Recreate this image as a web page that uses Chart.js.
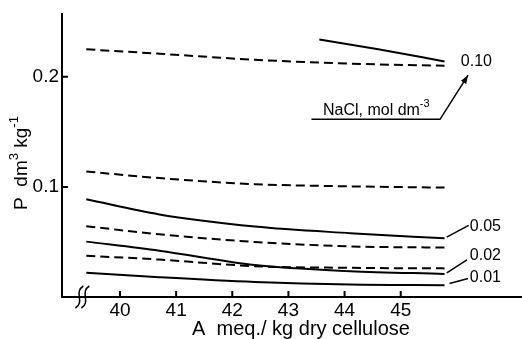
<!DOCTYPE html>
<html>
<head>
<meta charset="utf-8">
<script src="https://cdn.jsdelivr.net/npm/chart.js@4"></script>
<style>
  html, body { margin: 0; padding: 0; background: #fff; }
  #wrap { width: 522px; height: 339px; }
</style>
</head>
<body>
<div id="wrap"><canvas id="chart" width="522" height="339"></canvas></div>
<script>
// A meq./kg dry cellulose
const aValues = [39.4, 40.7, 42.4, 44.1, 45.78];
const aSolidTop = [43.55, 44.6, 45.78];
const xTicks = [40, 41, 42, 43, 44, 45];
const yTicks = [0.1, 0.2];

// P dm3/kg (top to bottom)
const dashedA = [0.225, 0.221, 0.2155, 0.212, 0.210];
const solid010 = [0.234, 0.225, 0.214];
const dashedB = [0.114, 0.108, 0.1025, 0.1005, 0.0994];
const solid005 = [0.0887, 0.075, 0.064, 0.058, 0.0533];
const dashedC = [0.0643, 0.057, 0.050, 0.046, 0.0449];
const solid002 = [0.0503, 0.042, 0.029, 0.0235, 0.021];
const dashedD = [0.0375, 0.034, 0.028, 0.0265, 0.026];
const solid001 = [0.022, 0.018, 0.0137, 0.0113, 0.0107];

// curve labels: text, label position, leader start/end
const curveLabels = [
  { text: '0.05', x: 46.23, y: 0.0642, from: [45.82, 0.0544], to: [46.21, 0.065] },
  { text: '0.02', x: 46.23, y: 0.0373, from: [45.82, 0.022], to: [46.18, 0.0338] },
  { text: '0.01', x: 46.23, y: 0.0176, from: [45.87, 0.0123], to: [46.2, 0.0168] },
];

const FONT = '"Liberation Sans", Arial, sans-serif';

function pts(xs, ys) {
  return xs.map((x, i) => ({ x: x, y: ys[i] }));
}

function line(data, dashed) {
  return {
    data: data,
    borderColor: '#000',
    borderWidth: 2,
    borderDash: dashed ? [9, 5] : [],
    pointRadius: 0,
    fill: false,
    cubicInterpolationMode: 'monotone',
  };
}

// text pieces with superscripts, centred on cx
function richText(ctx, parts, size, cx, cy) {
  const small = Math.round(size * 0.7);
  let total = 0;
  parts.forEach((p) => {
    ctx.font = (p.sup ? small : size) + 'px ' + FONT;
    total += ctx.measureText(p.t).width;
  });
  let x = cx - total / 2;
  ctx.textAlign = 'left';
  ctx.textBaseline = 'middle';
  parts.forEach((p) => {
    ctx.font = (p.sup ? small : size) + 'px ' + FONT;
    ctx.fillText(p.t, x, p.sup ? cy - size * 0.38 : cy);
    x += ctx.measureText(p.t).width;
  });
}

const decorations = {
  id: 'decorations',
  afterDraw(chart) {
    const ctx = chart.ctx;
    const xs = chart.scales.x;
    const ys = chart.scales.y;
    const area = chart.chartArea;
    const px = (v) => xs.getPixelForValue(v);
    const py = (v) => ys.getPixelForValue(v);

    ctx.save();
    ctx.strokeStyle = '#000';
    ctx.fillStyle = '#000';
    ctx.lineWidth = 2;

    // inward tick marks
    ctx.beginPath();
    xTicks.forEach((t) => {
      ctx.moveTo(px(t), area.bottom);
      ctx.lineTo(px(t), area.bottom - 6);
    });
    yTicks.forEach((t) => {
      ctx.moveTo(area.left, py(t));
      ctx.lineTo(area.left + 6, py(t));
    });
    ctx.stroke();

    // axis break
    const bx = px(39.33);
    const by = area.bottom;
    ctx.lineWidth = 1.5;
    [-3, 3].forEach((dx) => {
      ctx.beginPath();
      ctx.moveTo(bx + dx + 4, by - 11);
      ctx.bezierCurveTo(bx + dx - 6, by - 5, bx + dx + 6, by + 5, bx + dx - 4, by + 11);
      ctx.stroke();
    });

    // axis titles
    ctx.save();
    ctx.translate(22, 163);
    ctx.rotate(-Math.PI / 2);
    richText(ctx, [{ t: 'P  dm' }, { t: '3', sup: true }, { t: ' kg' }, { t: '-1', sup: true }], 19, 0, 0);
    ctx.restore();
    richText(ctx, [{ t: 'A  meq./ kg dry cellulose' }], 20, 301, 329);

    // curve labels and leaders
    ctx.lineWidth = 1.5;
    ctx.font = '16px ' + FONT;
    ctx.textAlign = 'left';
    ctx.textBaseline = 'middle';
    curveLabels.forEach((l) => {
      ctx.beginPath();
      ctx.moveTo(px(l.from[0]), py(l.from[1]));
      ctx.lineTo(px(l.to[0]), py(l.to[1]));
      ctx.stroke();
      ctx.fillText(l.text, px(l.x), py(l.y));
    });
    ctx.fillText('0.10', px(46.07), py(0.2136));

    // NaCl annotation with arrow
    const ux0 = px(43.41), ux1 = px(45.7), uy = py(0.1614);
    const ax = px(46.2), ay = py(0.2015);
    ctx.beginPath();
    ctx.moveTo(ux0, uy);
    ctx.lineTo(ux1, uy);
    ctx.lineTo(ax, ay);
    ctx.stroke();
    const ang = Math.atan2(ay - uy, ax - ux1);
    ctx.beginPath();
    ctx.moveTo(ax, ay);
    ctx.lineTo(ax - 9 * Math.cos(ang - 0.35), ay - 9 * Math.sin(ang - 0.35));
    ctx.lineTo(ax - 9 * Math.cos(ang + 0.35), ay - 9 * Math.sin(ang + 0.35));
    ctx.closePath();
    ctx.fill();
    richText(ctx, [{ t: 'NaCl, mol dm' }, { t: '-3', sup: true }], 16, (px(43.58) + px(45.55)) / 2, uy - 9);

    ctx.restore();
  },
};

new Chart(document.getElementById('chart'), {
  type: 'line',
  data: {
    datasets: [
      line(pts(aValues, dashedA), true),
      line(pts(aSolidTop, solid010), false),
      line(pts(aValues, dashedB), true),
      line(pts(aValues, solid005), false),
      line(pts(aValues, dashedC), true),
      line(pts(aValues, solid002), false),
      line(pts(aValues, dashedD), true),
      line(pts(aValues, solid001), false),
    ],
  },
  options: {
    responsive: false,
    animation: false,
    layout: { padding: { top: 10, right: 0, left: 0, bottom: 0 } },
    plugins: { legend: { display: false }, tooltip: { enabled: false } },
    scales: {
      x: {
        type: 'linear',
        min: 38.967,
        max: 47.16,
        afterBuildTicks: (scale) => { scale.ticks = xTicks.map((v) => ({ value: v })); },
        afterFit: (scale) => { scale.height = 42; },
        grid: { display: false, drawTicks: false },
        border: { display: true, color: '#000', width: 2 },
        ticks: { color: '#000', font: { family: FONT, size: 19 }, padding: 2, maxRotation: 0 },
      },
      y: {
        type: 'linear',
        min: 0,
        max: 0.2567,
        afterBuildTicks: (scale) => { scale.ticks = yTicks.map((v) => ({ value: v })); },
        afterFit: (scale) => { scale.width = 62; },
        grid: { display: false, drawTicks: false },
        border: { display: true, color: '#000', width: 2 },
        ticks: { color: '#000', font: { family: FONT, size: 19 }, padding: 3, callback: (v) => String(v) },
      },
    },
  },
  plugins: [decorations],
});
</script>
</body>
</html>
